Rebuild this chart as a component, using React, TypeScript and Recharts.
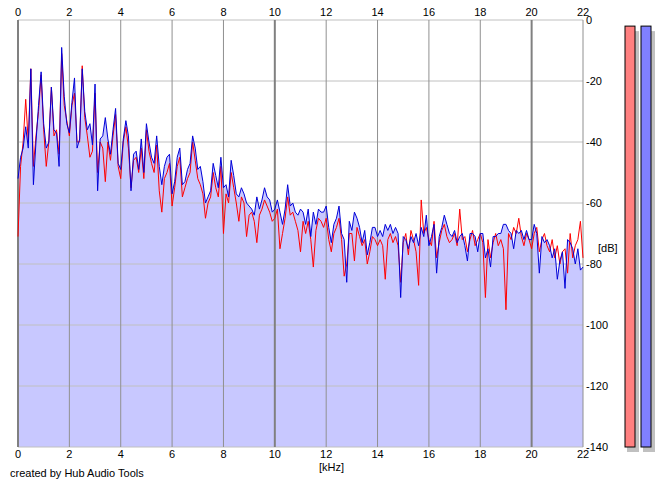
import React from 'react';
import {
  ComposedChart,
  BarChart,
  Area,
  Line,
  Bar,
  XAxis,
  YAxis,
  ReferenceLine,
} from 'recharts';

// spectrum, one value every 0.1 kHz from 0 to 22 kHz
const FREQ_STEP = 0.1;

const RIGHT_DB = [
  -52, -45, -42, -35, -42, -16, -54, -40, -28, -17,
  -34, -42, -40, -22, -36, -37, -48, -9, -25, -34,
  -37, -27, -19, -42, -39, -16, -30, -36, -34, -41,
  -21, -56, -39, -38, -32, -39, -44, -36, -29, -47,
  -49, -39, -33, -38, -56, -44, -43, -49, -39, -50,
  -34, -40, -45, -47, -38, -48, -54, -48, -45, -44,
  -57, -53, -45, -42, -54, -53, -49, -47, -38, -42,
  -49, -48, -53, -60, -58, -56, -47, -51, -55, -45,
  -55, -54, -58, -46, -51, -57, -58, -55, -57, -60,
  -61, -62, -64, -58, -62, -59, -55, -58, -59, -63,
  -62, -59, -63, -67, -62, -54, -61, -60, -63, -64,
  -62, -63, -67, -62, -71, -63, -67, -62, -63, -63,
  -61, -68, -73, -67, -65, -61, -70, -72, -86, -66,
  -69, -63, -65, -68, -73, -69, -77, -73, -68, -68,
  -71, -69, -71, -67, -69, -67, -70, -68, -70, -91,
  -71, -72, -75, -71, -73, -70, -74, -68, -71, -64,
  -74, -71, -67, -83, -71, -68, -64, -67, -70, -71,
  -69, -73, -71, -70, -74, -79, -70, -70, -71, -76,
  -70, -70, -78, -75, -81, -71, -71, -70, -70, -67,
  -67, -69, -70, -75, -69, -70, -69, -72, -69, -72,
  -72, -67, -70, -83, -71, -73, -72, -74, -78, -75,
  -85, -79, -76, -88, -72, -73, -75, -80, -75, -82,
  -81,
];

const LEFT_DB = [
  -71, -48, -40, -26, -40, -16, -48, -38, -30, -18,
  -36, -48, -40, -22, -38, -36, -44, -11, -28, -33,
  -38, -28, -24, -40, -40, -15, -32, -38, -45, -43,
  -24, -50, -40, -42, -53, -40, -46, -38, -31, -48,
  -52, -40, -35, -42, -55, -46, -45, -50, -42, -52,
  -36, -43, -47, -50, -41, -56, -63, -52, -50, -47,
  -61, -55, -48, -45, -58, -55, -52, -50, -40, -46,
  -52, -54, -57, -65, -60, -58, -50, -55, -58, -48,
  -70, -57, -60, -50, -55, -60, -66, -58, -60, -71,
  -64, -63, -66, -73, -64, -62, -59, -61, -63, -66,
  -65, -62, -75, -70, -65, -58, -64, -63, -66, -69,
  -76, -66, -70, -66, -72, -81, -69, -65, -66, -68,
  -65, -72, -76, -70, -68, -65, -72, -84, -80, -70,
  -70, -79, -68, -71, -74, -72, -80, -76, -71, -72,
  -74, -72, -74, -85, -72, -70, -73, -71, -74, -86,
  -73, -70, -77, -69, -72, -76, -87, -59, -70, -68,
  -72, -74, -66, -78, -73, -69, -67, -71, -73, -72,
  -70, -74, -62, -72, -71, -76, -72, -69, -74, -72,
  -70, -73, -91, -72, -78, -73, -70, -74, -72, -75,
  -95, -70, -72, -68, -70, -65, -71, -74, -70, -72,
  -75, -70, -68, -76, -72, -70, -74, -76, -72, -78,
  -74, -80, -76, -75, -83, -70, -78, -74, -72, -66,
  -78,
];

const KHZ_TICKS = [0, 2, 4, 6, 8, 10, 12, 14, 16, 18, 20, 22];
const DB_TICKS = [0, -20, -40, -60, -80, -100, -120, -140];

const METER_CHANNELS = ['L', 'R'];
const METER_LEVELS = [-2, -2];
const METER_COLORS = ['#ff8080', '#8080ff'];

const FONT = '"Liberation Sans", Arial, sans-serif';

const data = RIGHT_DB.map((r, i) => ({
  khz: +(i * FREQ_STEP).toFixed(1),
  left: LEFT_DB[i],
  right: r,
}));

const meterData = METER_CHANNELS.map((ch, i) => ({
  ch,
  range: [-140, METER_LEVELS[i]],
  color: METER_COLORS[i],
}));

const tickStyle = { fill: '#000', fontSize: 11, fontFamily: FONT };

function MeterBar(props: any) {
  const { x, y, width, height, payload } = props;
  return (
    <g>
      <rect x={x + width} y={y + 5} width={4} height={height} fill="#c0c0c0" />
      <rect x={x + 2} y={y + height} width={width - 2} height={5} fill="#c0c0c0" />
      <rect x={x} y={y} width={width} height={height} fill={payload.color} stroke="#000" strokeWidth={1} />
    </g>
  );
}

export default function App() {
  return (
    <div style={{ position: 'absolute', left: 0, top: 0, width: 665, height: 487, background: '#fff', fontFamily: FONT }}>
      <ComposedChart
        width={665}
        height={487}
        data={data}
        margin={{ top: 0, right: 42, bottom: 20, left: 18 }}
      >
        <XAxis
          xAxisId="top"
          orientation="top"
          dataKey="khz"
          type="number"
          domain={[0, 22]}
          ticks={KHZ_TICKS}
          height={20}
          axisLine={false}
          tickLine={false}
          tickSize={0}
          tickMargin={4}
          tick={tickStyle}
          interval={0}
        />
        <XAxis
          xAxisId="bottom"
          orientation="bottom"
          dataKey="khz"
          type="number"
          domain={[0, 22]}
          ticks={KHZ_TICKS}
          height={20}
          axisLine={false}
          tickLine={false}
          tickSize={0}
          tickMargin={3}
          tick={tickStyle}
          interval={0}
        />
        <YAxis
          orientation="right"
          type="number"
          domain={[-140, 0]}
          ticks={DB_TICKS}
          width={40}
          axisLine={false}
          tickLine={false}
          tickSize={0}
          tickMargin={3}
          tick={tickStyle}
          interval={0}
        />
        <Area
          xAxisId="bottom"
          dataKey="right"
          type="linear"
          baseValue="dataMin"
          stroke="none"
          fill="#c8c8ff"
          fillOpacity={1}
          isAnimationActive={false}
        />
        {DB_TICKS.map((v) => (
          <ReferenceLine key={'h' + v} xAxisId="bottom" y={v} stroke="#c0c0c0" strokeWidth={1} />
        ))}
        {KHZ_TICKS.map((v) => (
          <ReferenceLine
            key={'v' + v}
            xAxisId="bottom"
            x={v}
            stroke={v % 10 === 0 ? '#808080' : '#909090'}
            strokeWidth={v % 10 === 0 ? 2 : 1}
          />
        ))}
        <Line
          xAxisId="bottom"
          dataKey="left"
          type="linear"
          stroke="#ff0000"
          strokeWidth={1}
          dot={false}
          isAnimationActive={false}
        />
        <Line
          xAxisId="bottom"
          dataKey="right"
          type="linear"
          stroke="#0000d8"
          strokeWidth={1}
          dot={false}
          isAnimationActive={false}
        />
      </ComposedChart>

      <div style={{ position: 'absolute', left: 622, top: 0 }}>
        <BarChart width={38} height={487} data={meterData} margin={{ top: 20, right: 6, bottom: 40, left: 0 }}>
          <XAxis dataKey="ch" hide />
          <YAxis type="number" domain={[-140, 0]} hide />
          <Bar dataKey="range" barSize={10} shape={<MeterBar />} isAnimationActive={false} />
        </BarChart>
      </div>

      <div style={{ position: 'absolute', left: 319, top: 461, fontSize: 11 }}>[kHz]</div>
      <div style={{ position: 'absolute', left: 598, top: 242, fontSize: 11 }}>[dB]</div>
      <div style={{ position: 'absolute', left: 10, top: 467, fontSize: 11 }}>created by Hub Audio Tools</div>
    </div>
  );
}
